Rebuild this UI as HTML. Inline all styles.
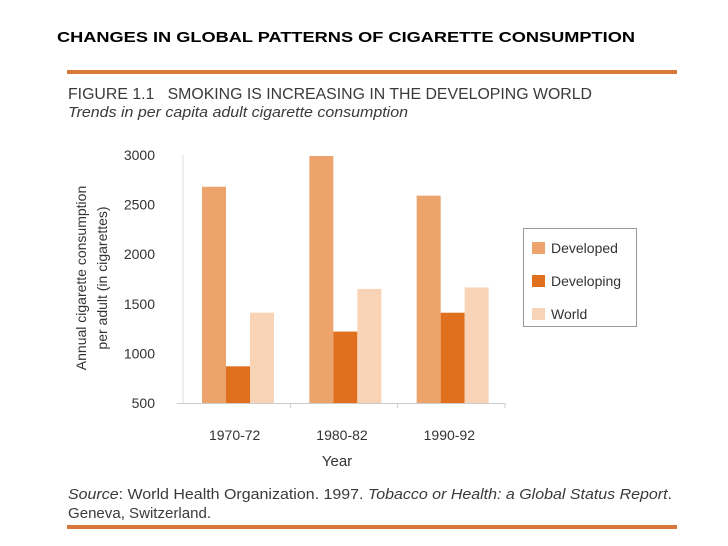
<!DOCTYPE html>
<html><head><meta charset="utf-8"><style>
html,body{margin:0;padding:0;background:#fff;}
svg{display:block;font-family:"Liberation Sans",Arial,sans-serif;}
</style></head><body>
<svg id="chart" width="728" height="546" viewBox="0 0 728 546">
<text x="57" y="42" font-size="15" font-weight="bold" fill="#000" textLength="578" lengthAdjust="spacingAndGlyphs">CHANGES IN GLOBAL PATTERNS OF CIGARETTE CONSUMPTION</text>
<rect x="67" y="70" width="610" height="4" fill="#d9773a"/>
<text x="68" y="99" font-size="16" fill="#3a3a3a" textLength="524" lengthAdjust="spacingAndGlyphs">FIGURE 1.1 &#160; SMOKING IS INCREASING IN THE DEVELOPING WORLD</text>
<text x="68" y="117" font-size="15" font-style="italic" fill="#3a3a3a" textLength="340" lengthAdjust="spacingAndGlyphs">Trends in per capita adult cigarette consumption</text>
<g id="plot"></g>
<text transform="translate(89,278) rotate(-90)" text-anchor="middle" font-size="14" fill="#333"><tspan x="0" dy="-3">Annual cigarette consumption</tspan><tspan x="0" dy="21">per adult (in cigarettes)</tspan></text>
<text x="337" y="466" text-anchor="middle" font-size="15" fill="#333">Year</text>
<g>
<rect x="523.5" y="228.5" width="113" height="98" fill="#fff" stroke="#999" stroke-width="1"/>
<g id="legend-items"></g>
</g>
<text x="68" y="499" font-size="15" fill="#3a3a3a" textLength="604" lengthAdjust="spacingAndGlyphs"><tspan font-style="italic">Source</tspan>: World Health Organization. 1997. <tspan font-style="italic">Tobacco or Health: a Global Status Report</tspan>.</text>
<text x="68" y="518" font-size="15" fill="#3a3a3a" textLength="143" lengthAdjust="spacingAndGlyphs">Geneva, Switzerland.</text>
<rect x="67" y="525" width="610" height="4" fill="#d9773a"/>
</svg>
<script>
const categories = ["1970-72", "1980-82", "1990-92"];
const seriesNames = ["Developed", "Developing", "World"];
const developed = [2680, 2990, 2590];
const developing = [870, 1220, 1410];
const world = [1410, 1650, 1665];
const yTicks = [500, 1000, 1500, 2000, 2500, 3000];

const NS = "http://www.w3.org/2000/svg";
const colors = ["#eca36c", "#e0701e", "#f8d3b5"];
const x0 = 183, x1 = 505, yTop = 155, yBot = 403, yMin = 500, yMax = 3000;
const yScale = v => yBot - (v - yMin) / (yMax - yMin) * (yBot - yTop);
const groupW = (x1 - x0) / categories.length;
const barW = 24, barOffset = 19;
const plot = document.getElementById("plot");
function mk(tag, attrs) { const e = document.createElementNS(NS, tag); for (const k in attrs) e.setAttribute(k, attrs[k]); return e; }

const yAxis = mk("line", {x1: x0, y1: yTop, x2: x0, y2: yBot, stroke: "#ddd", "stroke-width": 1});


plot.appendChild(yAxis);
const xAxis = mk("line", {x1: x0 - 6, y1: yBot + 0.5, x2: x1, y2: yBot + 0.5, stroke: "#ccc", "stroke-width": 1});


plot.appendChild(xAxis);

yTicks.forEach(t => {
  const lab = mk("text", {x: x0 - 28, y: yScale(t) + 5, "text-anchor": "end", "font-size": 14, fill: "#333"});
  
  
  lab.textContent = t;
  plot.appendChild(lab);
});

const series = [developed, developing, world];
categories.forEach((c, i) => {
  const gx = x0 + i * groupW;
  const tick = mk("line", {x1: gx + groupW, y1: yBot, x2: gx + groupW, y2: yBot + 5, stroke: "#ccc"});
  
  
  plot.appendChild(tick);
  series.forEach((s, j) => {
    const y = yScale(s[i]);
    const r = mk("rect", {x: gx + barOffset + j * barW, y: y, width: barW, height: yBot - y, fill: colors[j]});
    
    
    plot.appendChild(r);
  });
  const lab = mk("text", {x: gx + groupW / 2 - 2, y: 440, "text-anchor": "middle", "font-size": 14, fill: "#333"});
  
  
  lab.textContent = c;
  plot.appendChild(lab);
});

const leg = document.getElementById("legend-items");
seriesNames.forEach((n, j) => {
  const cy = 248 + j * 33;
  const sw = mk("rect", {x: 532, y: cy - 6, width: 13, height: 12, fill: colors[j]});
  
  
  leg.appendChild(sw);
  const t = mk("text", {x: 551, y: cy + 5, "font-size": 14, fill: "#333"});
  
  
  t.textContent = n;
  leg.appendChild(t);
});
</script>
</body></html>
